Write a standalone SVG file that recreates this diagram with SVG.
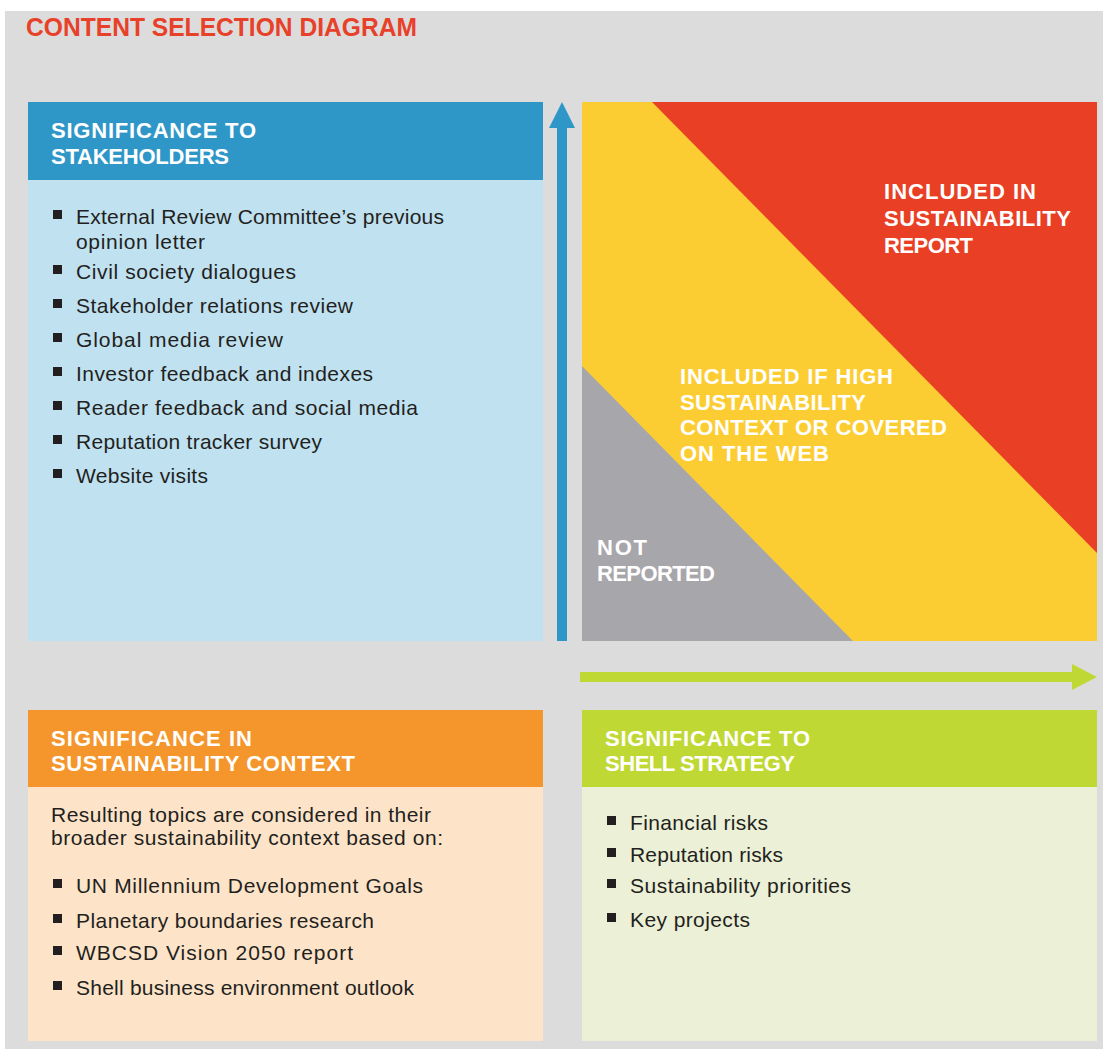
<svg xmlns="http://www.w3.org/2000/svg" width="1103" height="1049" viewBox="0 0 1103 1049">
<style>
.title{font-family:"Liberation Sans",Arial,sans-serif;font-weight:bold;font-size:25.5px;fill:#e8412a}
.hd{font-family:"Liberation Sans",Arial,sans-serif;font-weight:bold;font-size:22px;fill:#ffffff}
.lbl{font-family:"Liberation Sans",Arial,sans-serif;font-weight:bold;font-size:22px;fill:#ffffff}
.tx{font-family:"Liberation Sans",Arial,sans-serif;font-size:21px;fill:#231f20}
.bul{fill:#231f20}
</style>
<rect x="5" y="11" width="1098" height="1038" fill="#dcdcdc"/>
<text class="title" x="26" y="36" textLength="391" lengthAdjust="spacingAndGlyphs">CONTENT SELECTION DIAGRAM</text>

<g id="stakeholders">
<rect x="28" y="180" width="515" height="461" fill="#bfe1f0"/>
<rect x="28" y="102" width="515" height="78" fill="#2f97c8"/>
<text class="hd" x="51" y="138" textLength="205">SIGNIFICANCE TO</text>
<text class="hd" x="51" y="164" textLength="178">STAKEHOLDERS</text>
<rect class="bul" x="53" y="210" width="9" height="9"/>
<text class="tx" x="76" y="224" textLength="368">External Review Committee’s previous</text>
<text class="tx" x="76" y="249" textLength="129">opinion letter</text>
<rect class="bul" x="53" y="265" width="9" height="9"/>
<text class="tx" x="76" y="279" textLength="220">Civil society dialogues</text>
<rect class="bul" x="53" y="299" width="9" height="9"/>
<text class="tx" x="76" y="313" textLength="277">Stakeholder relations review</text>
<rect class="bul" x="53" y="333" width="9" height="9"/>
<text class="tx" x="76" y="347" textLength="207">Global media review</text>
<rect class="bul" x="53" y="367" width="9" height="9"/>
<text class="tx" x="76" y="381" textLength="297">Investor feedback and indexes</text>
<rect class="bul" x="53" y="401" width="9" height="9"/>
<text class="tx" x="76" y="415" textLength="342">Reader feedback and social media</text>
<rect class="bul" x="53" y="435" width="9" height="9"/>
<text class="tx" x="76" y="449" textLength="246">Reputation tracker survey</text>
<rect class="bul" x="53" y="469" width="9" height="9"/>
<text class="tx" x="76" y="483" textLength="132">Website visits</text>
</g>

<g id="matrix">
<rect x="582" y="102" width="515" height="539" fill="#fccd33"/>
<polygon points="652,102 1097,102 1097,553" fill="#e94025"/>
<polygon points="582,366 582,641 853,641" fill="#a7a6aa"/>
<text class="lbl" x="884" y="199" textLength="152">INCLUDED IN</text>
<text class="lbl" x="884" y="226" textLength="187">SUSTAINABILITY</text>
<text class="lbl" x="884" y="253" textLength="89">REPORT</text>
<text class="lbl" x="680" y="384" textLength="213">INCLUDED IF HIGH</text>
<text class="lbl" x="680" y="410" textLength="186">SUSTAINABILITY</text>
<text class="lbl" x="680" y="435" textLength="267">CONTEXT OR COVERED</text>
<text class="lbl" x="680" y="461" textLength="149">ON THE WEB</text>
<text class="lbl" x="597" y="555" textLength="50">NOT</text>
<text class="lbl" x="597" y="581" textLength="118">REPORTED</text>
</g>

<g id="connectors">
<polygon points="562,102 575,128 567,128 567,641 557,641 557,128 549,128" fill="#2f97c8"/>
<polygon points="580,672 1072,672 1072,664 1097,677 1072,690 1072,682 580,682" fill="#c0d833"/>
</g>

<g id="context">
<rect x="28" y="787" width="515" height="254" fill="#fde4c9"/>
<rect x="28" y="710" width="515" height="77" fill="#f4962b"/>
<text class="hd" x="51" y="746" textLength="201">SIGNIFICANCE IN</text>
<text class="hd" x="51" y="771" textLength="304">SUSTAINABILITY CONTEXT</text>
<text class="tx" x="51" y="822" textLength="380">Resulting topics are considered in their</text>
<text class="tx" x="51" y="845" textLength="392">broader sustainability context based on:</text>
<rect class="bul" x="53" y="879" width="9" height="9"/>
<text class="tx" x="76" y="893" textLength="347">UN Millennium Development Goals</text>
<rect class="bul" x="53" y="914" width="9" height="9"/>
<text class="tx" x="76" y="928" textLength="298">Planetary boundaries research</text>
<rect class="bul" x="53" y="946" width="9" height="9"/>
<text class="tx" x="76" y="960" textLength="277">WBCSD Vision 2050 report</text>
<rect class="bul" x="53" y="981" width="9" height="9"/>
<text class="tx" x="76" y="995" textLength="338">Shell business environment outlook</text>
</g>

<g id="strategy">
<rect x="582" y="787" width="515" height="254" fill="#ecf0d6"/>
<rect x="582" y="710" width="515" height="77" fill="#c0d833"/>
<text class="hd" x="605" y="746" textLength="205">SIGNIFICANCE TO</text>
<text class="hd" x="605" y="771" textLength="190">SHELL STRATEGY</text>
<rect class="bul" x="607" y="816" width="9" height="9"/>
<text class="tx" x="630" y="830" textLength="138">Financial risks</text>
<rect class="bul" x="607" y="848" width="9" height="9"/>
<text class="tx" x="630" y="862" textLength="153">Reputation risks</text>
<rect class="bul" x="607" y="879" width="9" height="9"/>
<text class="tx" x="630" y="893" textLength="221">Sustainability priorities</text>
<rect class="bul" x="607" y="913" width="9" height="9"/>
<text class="tx" x="630" y="927" textLength="120">Key projects</text>
</g>
</svg>
